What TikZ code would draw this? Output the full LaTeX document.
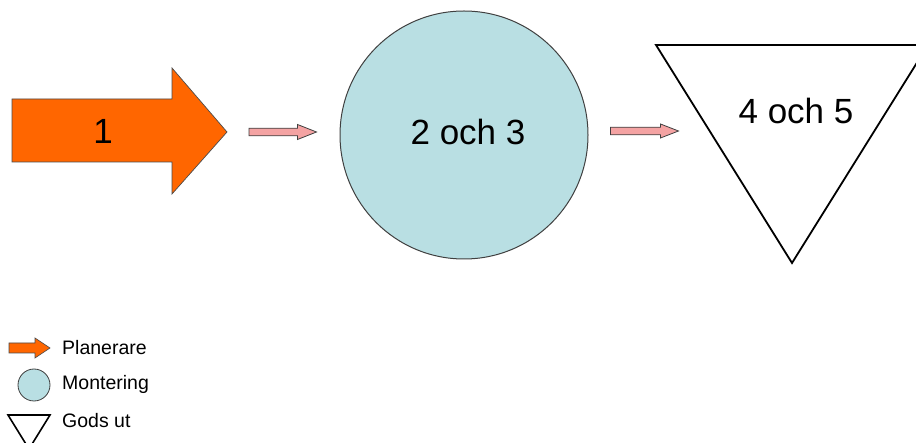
\documentclass[tikz,border=0pt]{standalone}
\usepackage{fontspec}
\setmainfont{Liberation Sans}
\usetikzlibrary{calc}

\definecolor{planorange}{HTML}{FF6600}
\definecolor{flowpink}{HTML}{F4A3A3}
\definecolor{mountblue}{HTML}{B9DFE3}

% block arrow from #1 to #2: shaft half width #3, head half width #4, head length #5
\newcommand{\blockarrow}[6][]{%
  \draw[#1] ($(#2)+(0,-#4)$) -- ($(#3)+(-#6,-#4)$) -- ($(#3)+(-#6,-#5)$) -- (#3)
    -- ($(#3)+(-#6,#5)$) -- ($(#3)+(-#6,#4)$) -- ($(#2)+(0,#4)$) -- cycle;}

\tikzset{
  bigtext/.style={font=\fontsize{35}{40}\selectfont, inner sep=0pt},
  legendtext/.style={font=\fontsize{19.5}{22}\selectfont, anchor=west, inner sep=0pt},
  orangearrow/.style={fill=planorange, draw=black!70, line width=0.7pt, line join=miter},
  pinkarrow/.style={fill=flowpink, draw=black!75, line width=0.8pt, line join=miter},
  mountcircle/.style={circle, fill=mountblue, draw=black!75, line width=1pt, inner sep=0pt},
  outtriangle/.style={draw=black, line width=1.8pt, line join=miter, fill=white},
}

\begin{document}
\begin{tikzpicture}[x=1pt,y=-1pt]
  \clip (0,0) rectangle (916,443);
  \fill[white] (0,0) rectangle (916,443);

  % planning: large orange block arrow
  \draw[orangearrow] (12,99) -- (172,99) -- (172,68) -- (227,132) -- (172,194)
    -- (172,162) -- (12,162) -- cycle;
  \coordinate (plantip) at (227,132);
  \node[bigtext] (plan) at (103,131) {1};

  % assembly: light blue circle
  \node[mountcircle, minimum size=248pt] (mount) at (464,135) {};
  \node[bigtext] (mountlabel) at (468,132) {2 och 3};

  % goods out: inverted triangle
  \draw[outtriangle] (656,45) -- (928,45) -- (792,263) -- cycle;
  \coordinate (outtop) at (656,45);
  \node[bigtext] (outlabel) at (796,111) {4 och 5};

  % flow connectors
  \coordinate (f1s) at ($(plantip)+(22,0)$);
  \coordinate (f1e) at ($(mount.west)+(-23,-3)$);
  \blockarrow[pinkarrow]{f1s}{f1e}{3.8}{7.5}{19}
  \coordinate (f2s) at ($(mount.east)+(22,-4)$);
  \coordinate (f2e) at ($(f2s)+(68,0)$);
  \blockarrow[pinkarrow]{f2s}{f2e}{3.8}{7}{18}

  % legend
  \coordinate (lg1s) at (9,348);
  \coordinate (lg1e) at (50,348);
  \blockarrow[orangearrow, line width=0.6pt]{lg1s}{lg1e}{5}{10}{15}
  \node[legendtext] (lg1) at (62,348) {Planerare};

  \node[mountcircle, minimum size=32pt, line width=0.8pt] (lg2sym) at (34,385) {};
  \node[legendtext] (lg2) at (62,384) {Montering};

  \draw[outtriangle, line width=1.6pt] (8,415) -- (50,415) -- (29,449) -- cycle;
  \coordinate (lg3sym) at (29,425);
  \node[legendtext] (lg3) at (62,421) {Gods ut};
\end{tikzpicture}
\end{document}
